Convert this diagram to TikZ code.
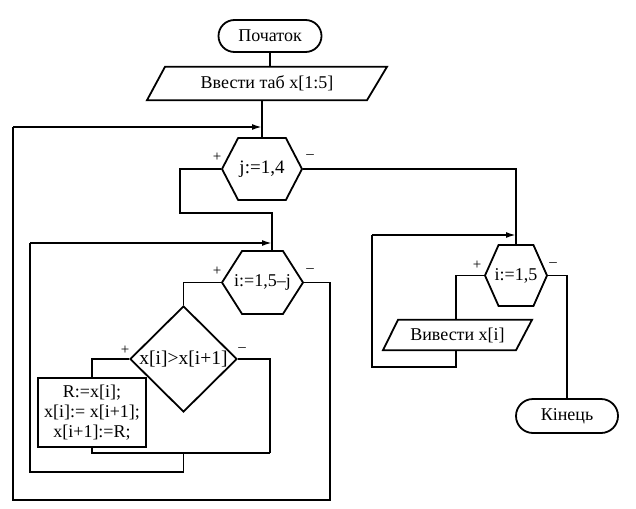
\documentclass[tikz,border=0pt]{standalone}
\usepackage{fontspec}
\setmainfont{Liberation Serif}
\usetikzlibrary{shapes.geometric,shapes.symbols,shapes.misc,arrows.meta}
\tikzset{
  every node/.style={font=\fontsize{18}{21}\selectfont},
  ln/.style={line width=1.8pt, line join=miter},
  arr/.style={ln, -{Latex[length=10pt,width=6pt]}},
  term/.style={draw, ln, rounded rectangle, inner sep=0pt},
  paratext/.style={rectangle, inner sep=0pt},
  hexa/.style={draw, ln, signal, signal to=east and west, signal from=nowhere, inner sep=0pt},
  dia/.style={draw, ln, diamond, inner sep=0pt},
  blk/.style={draw, ln, rectangle, inner sep=0pt, align=center},
  sgn/.style={font=\fontsize{15}{15}\selectfont, inner sep=0pt}
}
\begin{document}
\begin{tikzpicture}[x=1pt,y=-1pt]
\useasboundingbox[fill=white] (0,0) rectangle (636,508);
% nodes
\node[term, minimum width=103, minimum height=32] (start) at (270,36) {Початок};
\node[paratext, minimum width=220, minimum height=33] (p1) at (267,83.5) {Ввести таб x[1:5]};
\draw[ln] ([xshift=-120]p1.south) -- ([xshift=100]p1.south) -- ([xshift=120]p1.north) -- ([xshift=-102]p1.north) -- cycle;
\node[hexa, signal pointer angle=125, minimum width=80, minimum height=62] (j) at (262,169) {\makebox[0pt]{\fontsize{19}{21}\selectfont j:=1,4}};
\node[hexa, signal pointer angle=115, minimum width=81, minimum height=63] (ih) at (262.5,282.5) {\makebox[0pt]{i:=1,5–j}};
\node[dia, minimum width=107, minimum height=106] (d) at (183.5,359) {\makebox[0pt]{\fontsize{19.5}{21}\selectfont x[i]>x[i+1]}};
\node[blk, minimum width=108, minimum height=69] (box) at (92,412.5) {R:=x[i];\\[-1pt] x[i]:= x[i+1];\\[-1pt] x[i+1]:=R;};
\node[hexa, signal pointer angle=132, minimum width=62, minimum height=61] (ih2) at (516,275.5) {\makebox[0pt]{i:=1,5}};
\node[paratext, minimum width=130, minimum height=30] (p2) at (457.5,335) {Вивести x[i]};
\draw[ln] ([xshift=-74.5]p2.south) -- ([xshift=58.5]p2.south) -- ([xshift=74.5]p2.north) -- ([xshift=-59.5]p2.north) -- cycle;
\node[term, minimum width=102, minimum height=34] (end) at (567,416) {Кінець};
% sign labels
\node[sgn] (jp) at (217,157) {+};
\node[sgn] (jm) at (310,157) {–};
\node[sgn] (ip) at (217,271) {+};
\node[sgn] (im) at (310,271) {–};
\node[sgn] (dp) at (125,350) {+};
\node[sgn] (dm) at (242,350) {–};
\node[sgn] (kp) at (477,265) {+};
\node[sgn] (km) at (553,265) {–};
% coordinates
\coordinate (m1) at (262,127);
\coordinate (ihin) at (272,251);
\coordinate (m2) at (272,243);
\coordinate (m3) at (516,235);
% connectors
\draw[ln] (start.south) -- (start.south |- p1.north);
\draw[ln] (j.north |- p1.south) -- (j.north);
\draw[ln] (j.west) -- (180,169) -- (180,213) -- (272,213) -- (ihin);
\draw[ln] (ih.west) -| (d.north);
\draw[ln] (d.west) -| (box.north);
\draw[ln] (box.south) -- (92,453) -- (270,453);
\draw[ln] (d.east) -| (270,453);
\draw[ln] (183.5,453) -- (183.5,472) -- (30,472) -- (30,243);
\draw[arr] (30,243) -- (m2);
\draw[ln] (ih.east) -- (330,282.5) -- (330,500) -- (13,500) -- (13,127);
\draw[arr] (13,127) -- (m1);
\draw[ln] (j.east) -| (ih2.north);
\draw[ln] (ih2.west) -- (456,275.5) -- (p2.north -| 456,0);
\draw[ln] (p2.south -| 456,0) -- (456,367) -- (372,367) -- (372,235);
\draw[arr] (372,235) -- (m3);
\draw[ln] (ih2.east) -| (end.north);
\end{tikzpicture}
\end{document}
